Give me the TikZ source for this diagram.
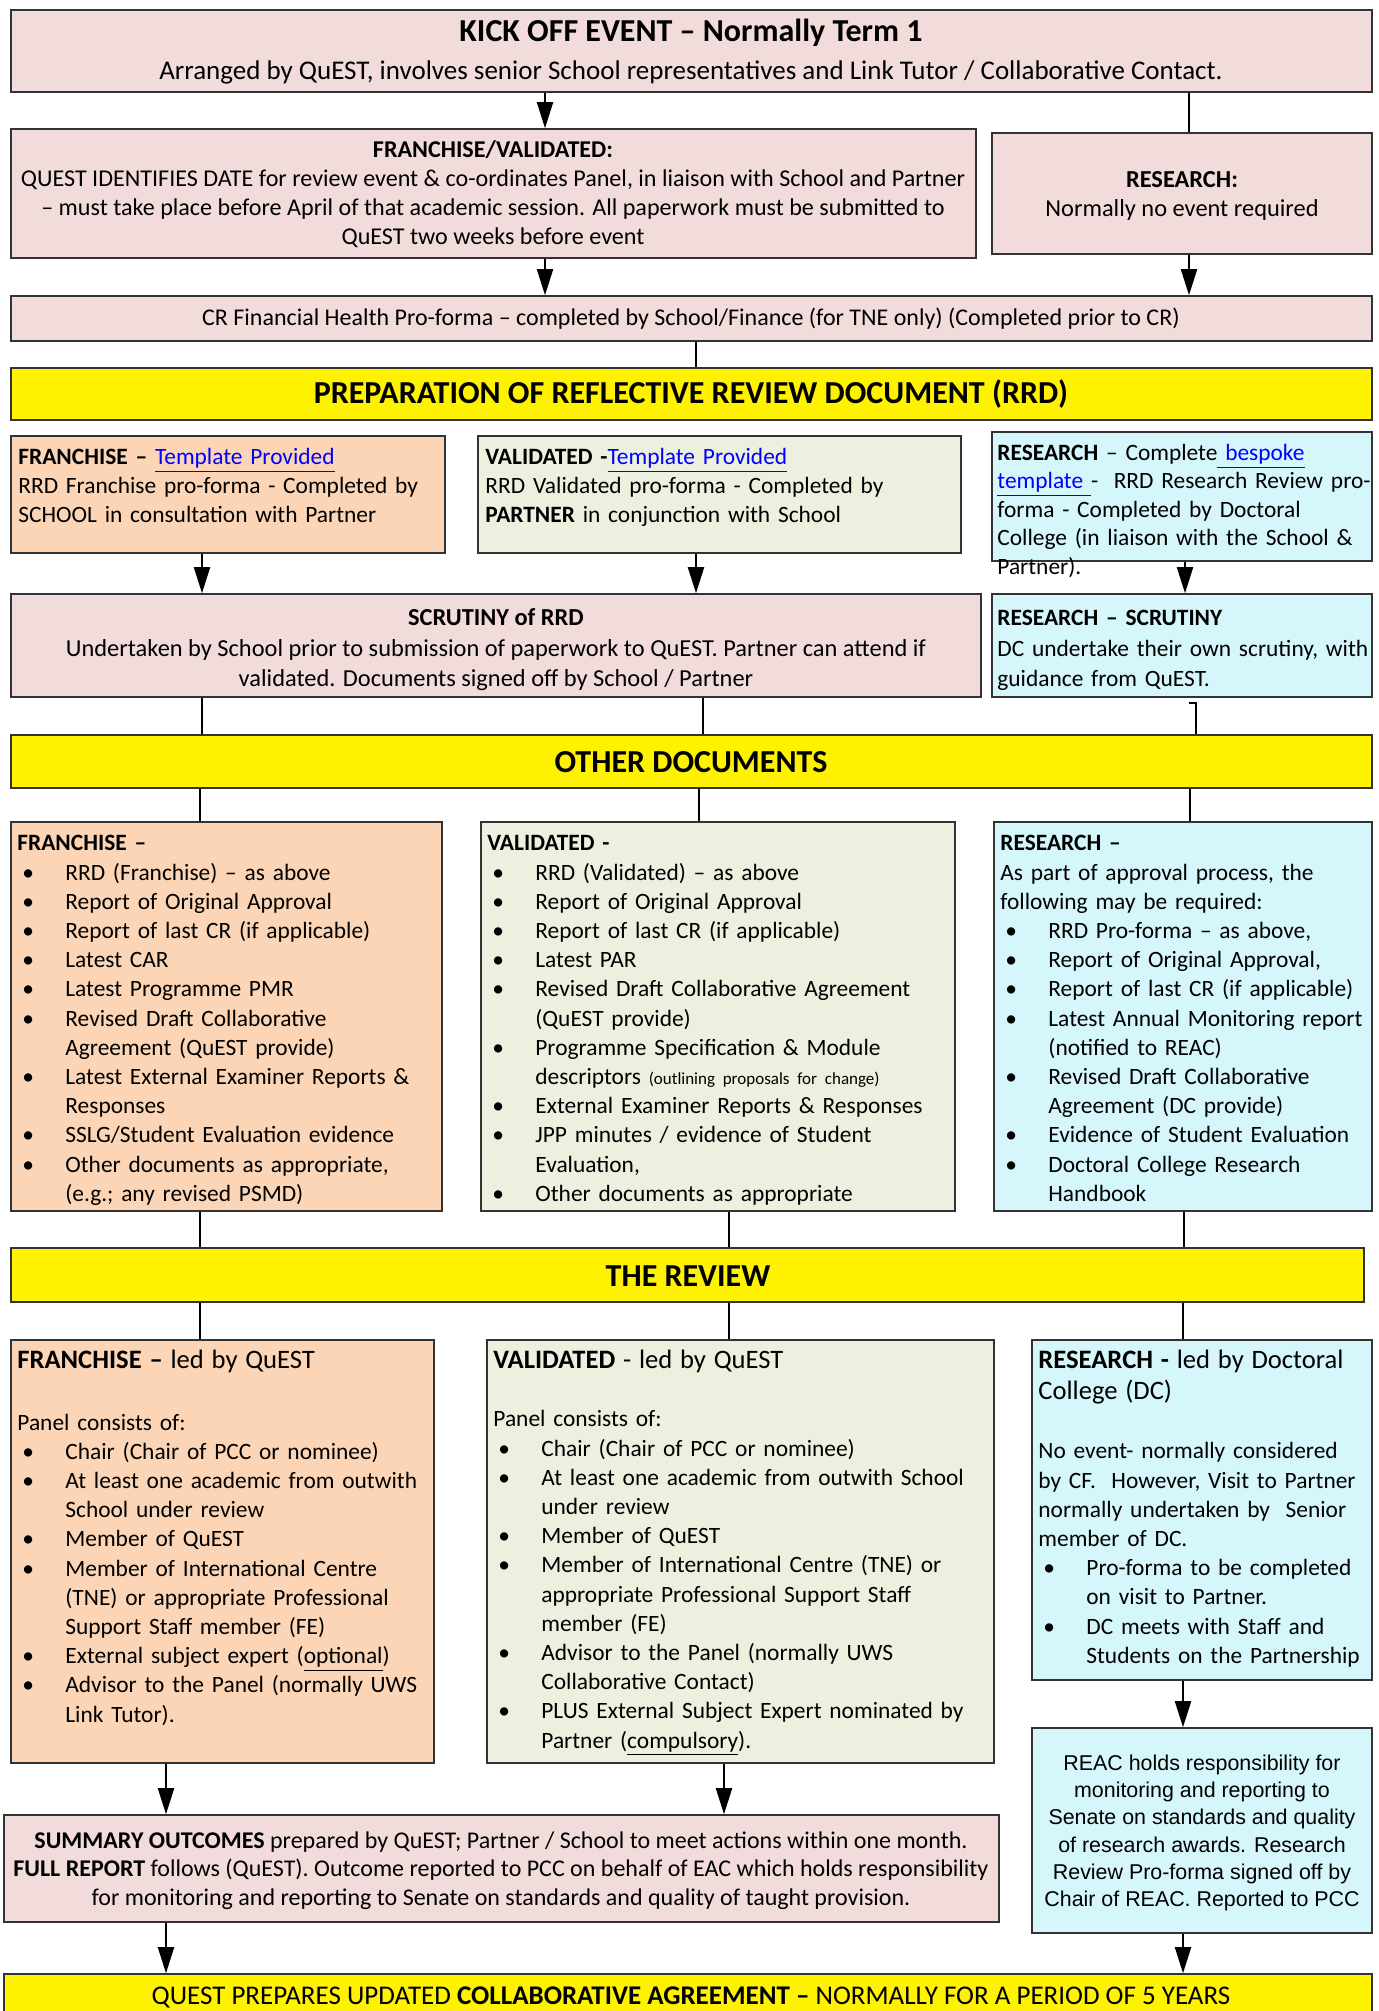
\documentclass[tikz,border=0pt]{standalone}
\usepackage{fontspec}
\setmainfont{Carlito}
\newfontfamily\arialf{Liberation Sans}
\usetikzlibrary{arrows.meta,fit}
\definecolor{pinkbox}{HTML}{F2DCDB}
\definecolor{orangebox}{HTML}{FBD5B5}
\definecolor{greenbox}{HTML}{EBF1DE}
\definecolor{cyanbox}{HTML}{D5F6FB}
\definecolor{linkblue}{HTML}{0000FF}
\newcommand\lnk[1]{\textcolor{linkblue}{\underline{#1}}}
\newcommand\bul{\hspace*{2.5pt}\makebox[21.5pt][l]{\textbullet}}
\newcommand\indt{\hspace*{24pt}}
\begin{document}
\begin{tikzpicture}[x=0.5pt,y=-0.5pt,
  box/.style={draw=black!80, line width=0.8pt, inner sep=0pt},
  ln/.style={line width=1pt, draw=black},
  arr/.style={line width=1pt, -{Triangle[length=13pt,width=8pt]}},
  tl/.style={inner sep=0pt, anchor=north west, align=left, text width=#1, font=\fontsize{11.7pt}{14.5pt}\selectfont},
  tl/.default=200pt,
  tc/.style={inner sep=0pt, anchor=north, align=center, font=\fontsize{12.2pt}{14.5pt}\selectfont},
  t1/.style={inner sep=0pt, anchor=center, font=\fontsize{12pt}{14.5pt}\selectfont},
  hd/.style={inner sep=0pt, anchor=center, font=\fontsize{16pt}{19pt}\selectfont\bfseries},
]
\useasboundingbox (0,0) rectangle (1379,2011);
\fill[white] (0,0) rectangle (1379,2011);

% boxes
\node[box, fill=pinkbox, fit={(11,10) (1372,92)}] (kick) {};
\node[box, fill=pinkbox, fit={(11,129) (976,258)}] (fv) {};
\node[box, fill=pinkbox, fit={(992,133) (1372,254)}] (res) {};
\node[box, fill=pinkbox, fit={(11,296) (1372,341)}] (cr) {};
\node[box, fill=yellow, fit={(11,368) (1372,420)}] (rrd) {};
\node[box, fill=orangebox, fit={(11,436) (445,553)}] (frrd) {};
\node[box, fill=greenbox, fit={(478,436) (961,553)}] (vrrd) {};
\node[box, fill=cyanbox, fit={(992,432) (1372,561)}] (rrrd) {};
\node[box, fill=pinkbox, fit={(11,594) (981,697)}] (scr) {};
\node[box, fill=cyanbox, fit={(992,594) (1372,697)}] (rscr) {};
\node[box, fill=yellow, fit={(11,735) (1372,788)}] (oth) {};
\node[box, fill=orangebox, fit={(11,822) (442,1211)}] (fod) {};
\node[box, fill=greenbox, fit={(481,822) (955,1211)}] (vod) {};
\node[box, fill=cyanbox, fit={(994,822) (1372,1211)}] (rod) {};
\node[box, fill=yellow, fit={(11,1248) (1364,1302)}] (rev) {};
\node[box, fill=orangebox, fit={(11,1340) (434,1763)}] (frev) {};
\node[box, fill=greenbox, fit={(487,1340) (994,1763)}] (vrev) {};
\node[box, fill=cyanbox, fit={(1032,1340) (1372,1680)}] (rrev) {};
\node[box, fill=cyanbox, fit={(1032,1728) (1372,1933)}] (reac) {};
\node[box, fill=pinkbox, fit={(4,1815) (999,1922)}] (sum) {};
\node[box, fill=yellow, fit={(4,1974) (1372,2040)}] (fin) {};

% column coordinates
\foreach \cx in {166,200,202,545,696,699,703,724,729,1183,1184,1185,1189,1190,1196}
  \coordinate (c\cx) at (\cx,0);

% connectors
\draw[arr] (kick.south -| c545) -- (fv.north -| c545);
\draw[ln] (kick.south -| c1189) -- (res.north -| c1189);
\draw[arr] (fv.south -| c545) -- (cr.north -| c545);
\draw[arr] (res.south -| c1189) -- (cr.north -| c1189);
\draw[ln] (cr.south -| c696) -- (rrd.north -| c696);
\draw[arr] (frrd.south -| c202) -- (scr.north -| c202);
\draw[arr] (vrrd.south -| c696) -- (scr.north -| c696);
\draw[arr] (rrrd.south -| c1185) -- (rscr.north -| c1185);
\draw[ln] (scr.south -| c202) -- (oth.north -| c202);
\draw[ln] (scr.south -| c703) -- (oth.north -| c703);
\coordinate (hook) at (1189,703);
\draw[ln] (hook) -- (hook -| c1196) -- (oth.north -| c1196);
\draw[ln] (oth.south -| c200) -- (fod.north -| c200);
\draw[ln] (oth.south -| c699) -- (vod.north -| c699);
\draw[ln] (oth.south -| c1190) -- (rod.north -| c1190);
\draw[ln] (fod.south -| c200) -- (rev.north -| c200);
\draw[ln] (vod.south -| c729) -- (rev.north -| c729);
\draw[ln] (rod.south -| c1184) -- (rev.north -| c1184);
\draw[ln] (rev.south -| c200) -- (frev.north -| c200);
\draw[ln] (rev.south -| c729) -- (vrev.north -| c729);
\draw[ln] (rev.south -| c1183) -- (rrev.north -| c1183);
\draw[arr] (frev.south -| c166) -- (sum.north -| c166);
\draw[arr] (vrev.south -| c724) -- (sum.north -| c724);
\draw[arr] (rrev.south -| c1183) -- (reac.north -| c1183);
\draw[arr] (sum.south -| c166) -- (fin.north -| c166);
\draw[arr] (reac.south -| c1183) -- (fin.north -| c1183);

% texts
\node[hd] (kickT1) at (691,33) {KICK OFF EVENT – Normally Term 1};
\node[t1, font=\fontsize{13.5pt}{16pt}\selectfont] (kickT2) at (691,72) {Arranged by QuEST, involves senior School representatives and Link Tutor / Collaborative Contact.};
\node[tc, font=\fontsize{12.05pt}{14.5pt}\selectfont] (fvT) at (493,137) {\strut\textbf{FRANCHISE/VALIDATED:}\\QUEST IDENTIFIES DATE for review event \& co-ordinates Panel, in liaison with School and Partner\\– must take place before April of that academic session. All paperwork must be submitted to\\QuEST two weeks before event};
\node[tc] (resT) at (1182,167) {\strut\textbf{RESEARCH:}\\Normally no event required};
\node[t1] (crT) at (691,319) {CR Financial Health Pro-forma – completed by School/Finance (for TNE only) (Completed prior to CR)};
\node[hd] (rrdT) at (691,394) {PREPARATION OF REFLECTIVE REVIEW DOCUMENT (RRD)};
\node[tl=215pt] (frrdT) at (18,444) {\strut\textbf{FRANCHISE –} \lnk{Template Provided}\\RRD Franchise pro-forma - Completed by\\SCHOOL in consultation with Partner};
\node[tl=235pt] (vrrdT) at (485,444) {\strut\textbf{VALIDATED -}\lnk{Template Provided}\\RRD Validated pro-forma - Completed by\\\textbf{PARTNER} in conjunction with School};
\node[tl=210pt, font=\fontsize{11.7pt}{14.25pt}\selectfont] (rrrdT) at (997,440) {\strut\textbf{RESEARCH} – Complete\lnk{ bespoke}\\\lnk{template }- \ RRD Research Review pro-\\forma - Completed by Doctoral\\College (in liaison with the School \&\\Partner).};
\node[tc, font=\fontsize{12.2pt}{15.25pt}\selectfont] (scrT) at (496,604) {\strut\textbf{SCRUTINY of RRD}\\Undertaken by School prior to submission of paperwork to QuEST. Partner can attend if\\validated. Documents signed off by School / Partner};
\node[tl=210pt, font=\fontsize{11.7pt}{15.25pt}\selectfont] (rscrT) at (997,604) {\strut\textbf{RESEARCH – SCRUTINY}\\DC undertake their own scrutiny, with\\guidance from QuEST.};
\node[hd] (othT) at (691,762) {OTHER DOCUMENTS};

\node[tl=230pt, font=\fontsize{11.7pt}{14.6pt}\selectfont] (fodT) at (17,830) {\strut\textbf{FRANCHISE –}\\\bul RRD (Franchise) – as above\\\bul Report of Original Approval\\\bul Report of last CR (if applicable)\\\bul Latest CAR\\\bul Latest Programme PMR\\\bul Revised Draft Collaborative\\\indt Agreement (QuEST provide)\\\bul Latest External Examiner Reports \&\\\indt Responses\\\bul SSLG/Student Evaluation evidence\\\bul Other documents as appropriate,\\\indt (e.g.; any revised PSMD)};
\node[tl=250pt, font=\fontsize{11.7pt}{14.6pt}\selectfont] (vodT) at (487,830) {\strut\textbf{VALIDATED -}\\\bul RRD (Validated) – as above\\\bul Report of Original Approval\\\bul Report of last CR (if applicable)\\\bul Latest PAR\\\bul Revised Draft Collaborative Agreement\\\indt (QuEST provide)\\\bul Programme Specification \& Module\\\indt descriptors {\fontsize{8.5pt}{10pt}\selectfont (outlining proposals for change)}\\\bul External Examiner Reports \& Responses\\\bul JPP minutes / evidence of Student\\\indt Evaluation,\\\bul Other documents as appropriate};
\node[tl=210pt, font=\fontsize{11.7pt}{14.6pt}\selectfont] (rodT) at (1000,830) {\strut\textbf{RESEARCH –}\\As part of approval process, the\\following may be required:\\\bul RRD Pro-forma – as above,\\\bul Report of Original Approval,\\\bul Report of last CR (if applicable)\\\bul Latest Annual Monitoring report\\\indt (notified to REAC)\\\bul Revised Draft Collaborative\\\indt Agreement (DC provide)\\\bul Evidence of Student Evaluation\\\bul Doctoral College Research\\\indt Handbook};

\node[hd] (revT) at (688,1276) {THE REVIEW};

\node[tl=230pt, font=\fontsize{11.7pt}{14.6pt}\selectfont] (frevT) at (17,1348) {\strut{\fontsize{13.3pt}{15.5pt}\selectfont\textbf{FRANCHISE –} led by QuEST}\\[16pt]Panel consists of:\\\bul Chair (Chair of PCC or nominee)\\\bul At least one academic from outwith\\\indt School under review\\\bul Member of QuEST\\\bul Member of International Centre\\\indt (TNE) or appropriate Professional\\\indt Support Staff member (FE)\\\bul External subject expert (\underline{optional})\\\bul Advisor to the Panel (normally UWS\\\indt Link Tutor).};
\node[tl=260pt, font=\fontsize{11.7pt}{14.6pt}\selectfont] (vrevT) at (493,1348) {\strut{\fontsize{13.3pt}{15.5pt}\selectfont\textbf{VALIDATED} - led by QuEST}\\[14.4pt]Panel consists of:\\\bul Chair (Chair of PCC or nominee)\\\bul At least one academic from outwith School\\\indt under review\\\bul Member of QuEST\\\bul Member of International Centre (TNE) or\\\indt appropriate Professional Support Staff\\\indt member (FE)\\\bul Advisor to the Panel (normally UWS\\\indt Collaborative Contact)\\\bul PLUS External Subject Expert nominated by\\\indt Partner (\underline{compulsory}).};
\node[tl=200pt, font=\fontsize{11.7pt}{14.6pt}\selectfont] (rrevT) at (1038,1348) {\strut{\fontsize{13.3pt}{15.5pt}\selectfont\textbf{RESEARCH -} led by Doctoral\\[0.9pt]College (DC)}\\[14.9pt]No event- normally considered\\by CF. \ However, Visit to Partner\\normally undertaken by \ Senior\\member of DC.\\\bul Pro-forma to be completed\\\indt on visit to Partner.\\\bul DC meets with Staff and\\\indt Students on the Partnership};

\node[tc, font=\arialf\fontsize{10.7pt}{13.6pt}\selectfont] (reacT) at (1202,1751) {\strut REAC holds responsibility for\\monitoring and reporting to\\Senate on standards and quality\\of research awards. Research\\Review Pro-forma signed off by\\Chair of REAC. Reported to PCC};
\node[tc, font=\fontsize{12pt}{14.25pt}\selectfont] (sumT) at (501,1828) {\strut\textbf{SUMMARY OUTCOMES} prepared by QuEST; Partner / School to meet actions within one month.\\\textbf{FULL REPORT} follows (QuEST). Outcome reported to PCC on behalf of EAC which holds responsibility\\for monitoring and reporting to Senate on standards and quality of taught provision.};
\node[t1, font=\fontsize{13.5pt}{16pt}\selectfont] (finT) at (691,1997) {QUEST PREPARES UPDATED \textbf{COLLABORATIVE AGREEMENT –} NORMALLY FOR A PERIOD OF 5 YEARS};
\end{tikzpicture}
\end{document}
